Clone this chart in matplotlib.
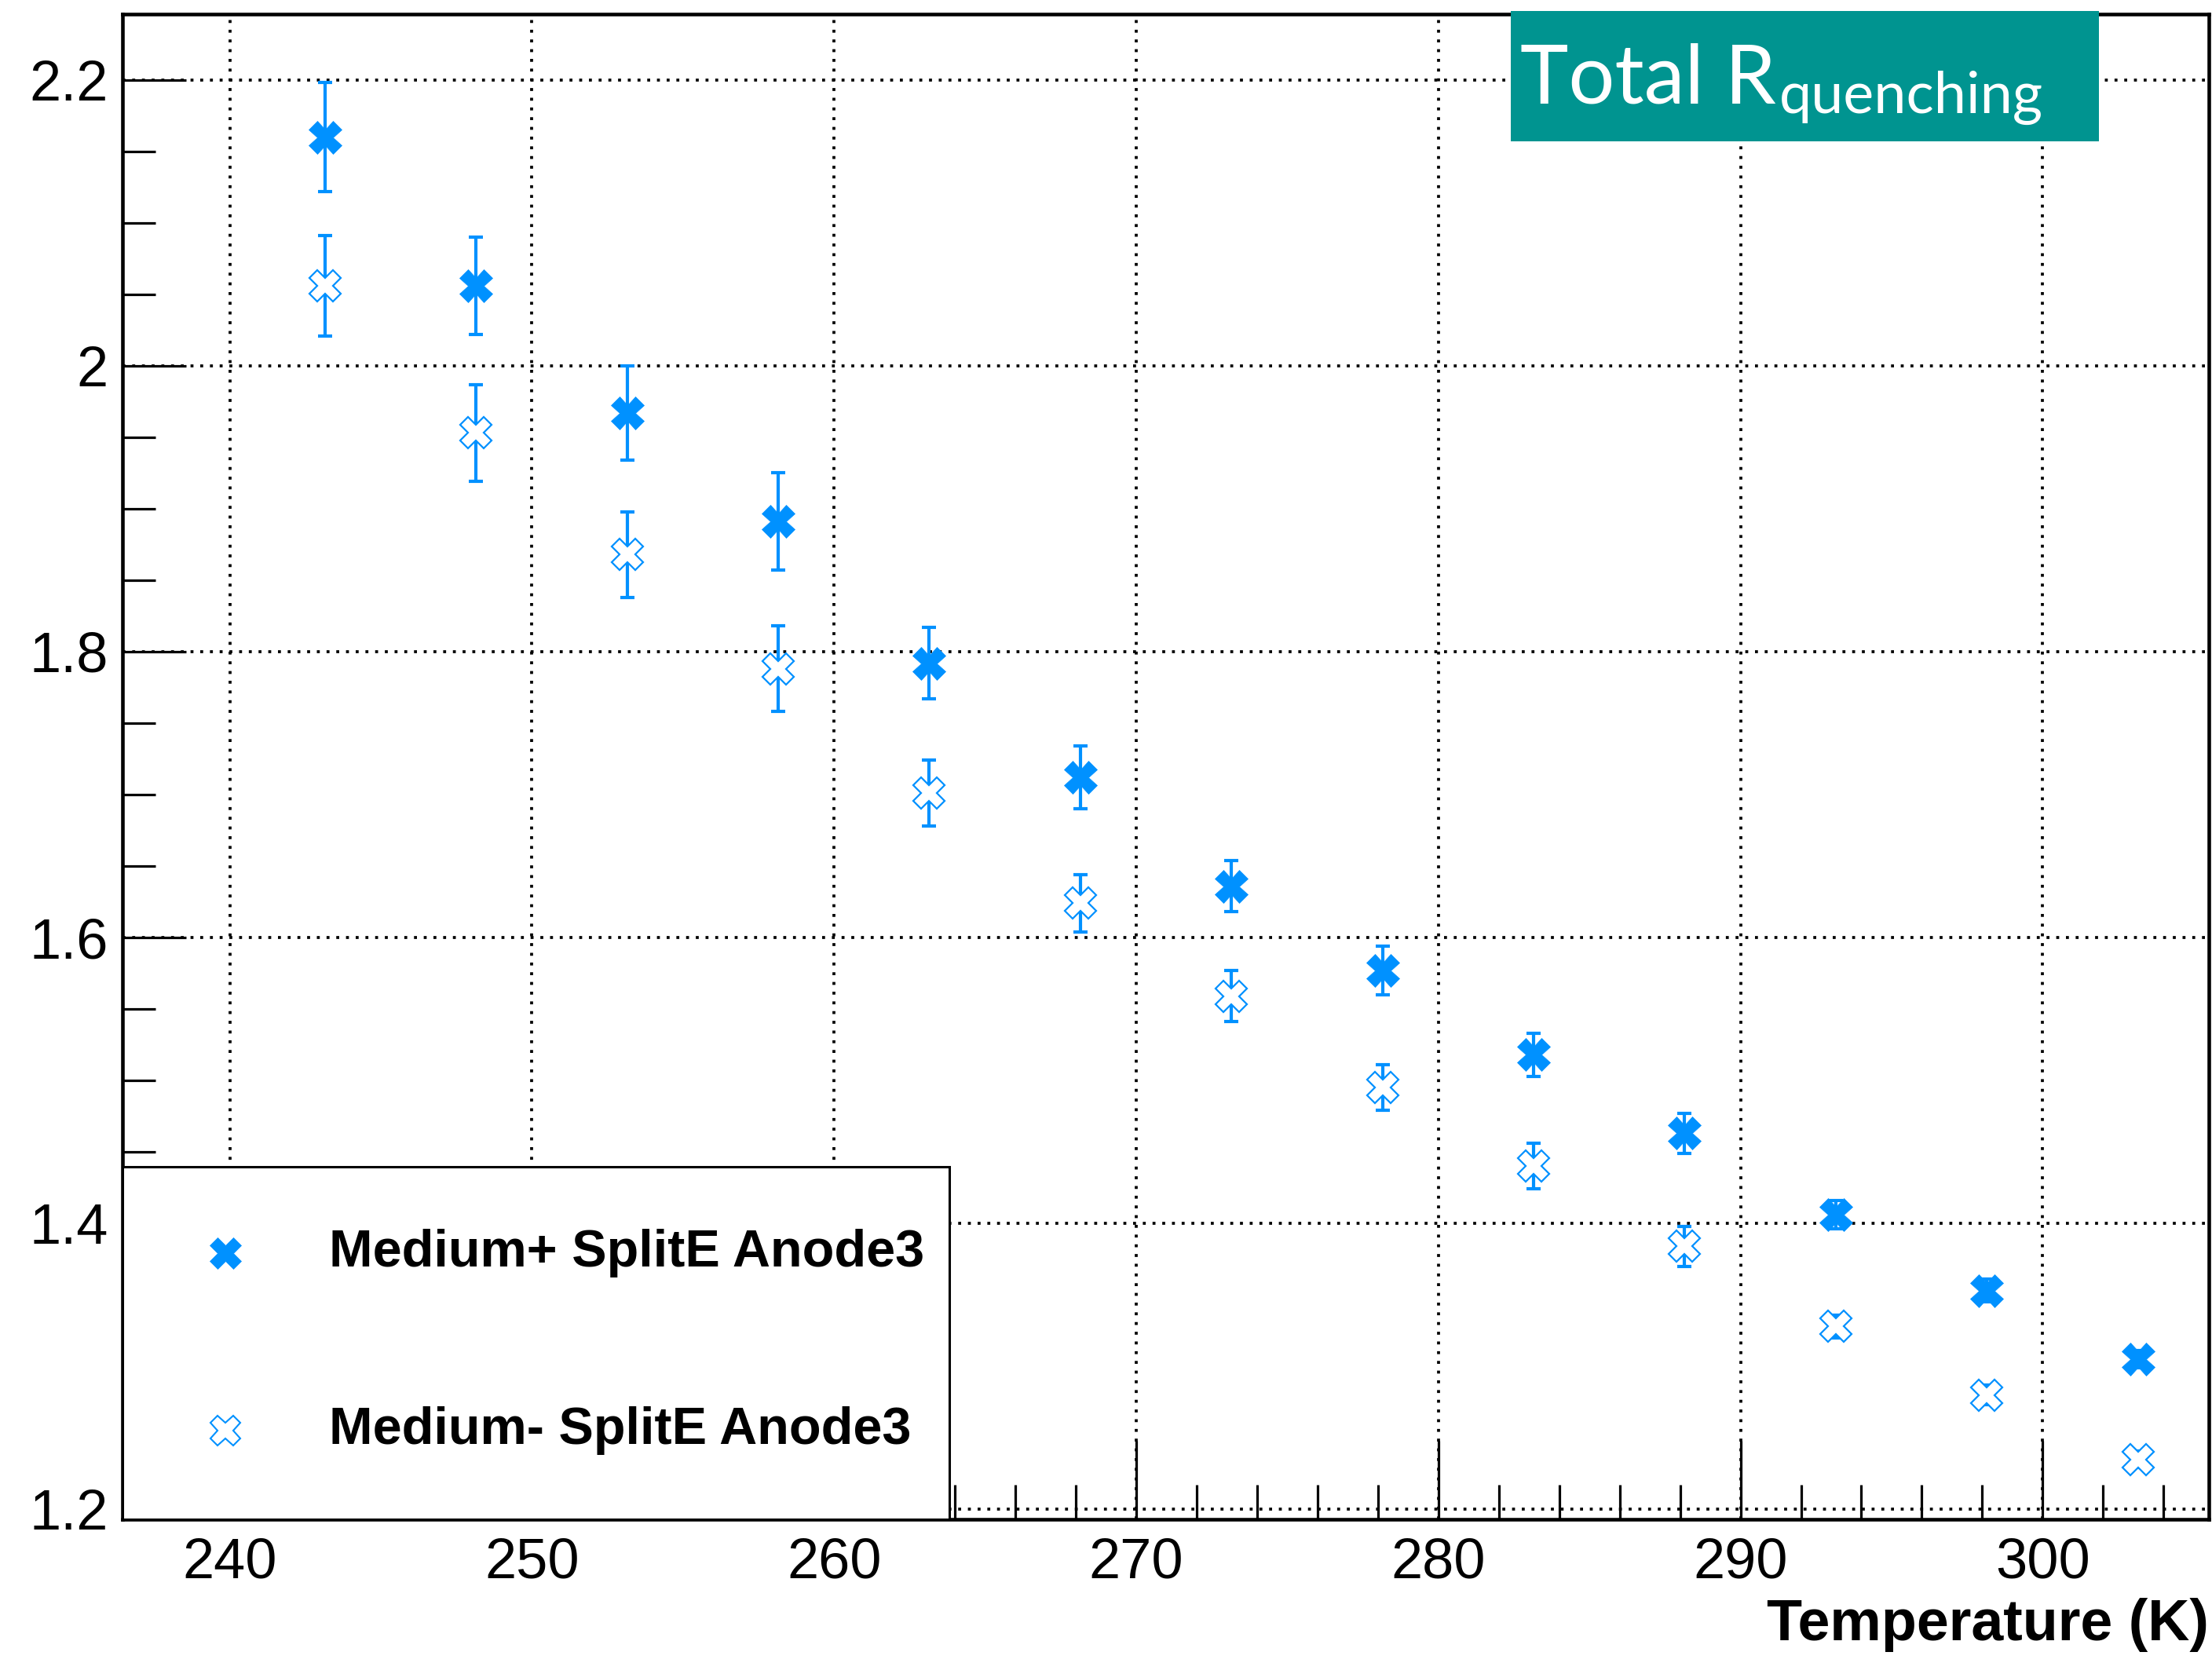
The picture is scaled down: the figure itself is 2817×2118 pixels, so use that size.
import matplotlib
matplotlib.use("Agg")
import matplotlib.pyplot as plt
from matplotlib.patches import Rectangle
from matplotlib.ticker import MultipleLocator

# Temperature scan (K): -30 C .. +30 C in 5 C steps
temperature = [243.15, 248.15, 253.15, 258.15, 263.15, 268.15, 273.15,
               278.15, 283.15, 288.15, 293.15, 298.15, 303.15]

# Total quenching resistance, Medium+ sample
r_plus = [2.160, 2.056, 1.967, 1.891, 1.792, 1.712, 1.636, 1.577, 1.518, 1.463, 1.406, 1.353, 1.305]
r_plus_err = [0.038, 0.034, 0.033, 0.034, 0.025, 0.022, 0.018, 0.017, 0.015, 0.014, 0.010, 0.008, 0.006]

# Total quenching resistance, Medium- sample
r_minus = [2.056, 1.953, 1.868, 1.788, 1.701, 1.624, 1.559, 1.495, 1.440, 1.384, 1.328, 1.280, 1.235]
r_minus_err = [0.035, 0.034, 0.030, 0.030, 0.023, 0.020, 0.018, 0.016, 0.016, 0.014, 0.008, 0.007, 0.006]

series_labels = ["Medium+ SplitE Anode3", "Medium- SplitE Anode3"]
x_ticks = [240, 250, 260, 270, 280, 290, 300]
y_ticks = [1.2, 1.4, 1.6, 1.8, 2.0, 2.2]
y_tick_labels = ["1.2", "1.4", "1.6", "1.8", "2", "2.2"]

BLUE = "#0091ff"
TEAL = "#009490"

plt.rcParams["font.family"] = ["Liberation Sans", "DejaVu Sans"]

W, H = 2817, 2118
fig = plt.figure(figsize=(W / 100, H / 100), dpi=100)
L, R, T, B = 156, 2813, 18, 1935
ax = fig.add_axes([L / W, 1 - B / H, (R - L) / W, (B - T) / H])

ax.set_xlim(236.45, 305.5)
ax.set_ylim(1.193, 2.246)

# ticks and grid
ax.set_xticks(x_ticks)
ax.set_yticks(y_ticks)
ax.set_yticklabels(y_tick_labels)
ax.xaxis.set_minor_locator(MultipleLocator(2))
ax.yaxis.set_minor_locator(MultipleLocator(0.05))
ax.grid(True, which="major", color="black", linestyle=(0, (1, 2.3)), linewidth=2.7)
ax.set_axisbelow(True)

ax.tick_params(axis="both", which="both", direction="in", top=False, right=False,
               width=2.3, colors="black", labelsize=52)
ax.tick_params(axis="x", which="major", length=72, pad=16)
ax.tick_params(axis="x", which="minor", length=32)
ax.tick_params(axis="y", which="major", length=58, pad=13)
ax.tick_params(axis="y", which="minor", length=30)
for s in ax.spines.values():
    s.set_linewidth(3.3)

# data
ax.errorbar(temperature, r_plus, yerr=r_plus_err, fmt="none", ecolor=BLUE,
            elinewidth=3.0, capsize=6.5, capthick=3.0, zorder=3)
ax.plot(temperature, r_plus, linestyle="none", marker="X", markersize=30,
        markerfacecolor=BLUE, markeredgecolor=BLUE, markeredgewidth=0.5, zorder=4)
ax.errorbar(temperature, r_minus, yerr=r_minus_err, fmt="none", ecolor=BLUE,
            elinewidth=3.0, capsize=6.5, capthick=3.0, zorder=3)
ax.plot(temperature, r_minus, linestyle="none", marker="X", markersize=29,
        markerfacecolor="white", markeredgecolor=BLUE, markeredgewidth=1.6, zorder=4)

# legend box
lw_, lh_ = (1209 - L) / (R - L), (1935 - 1486) / (B - T)
ax.add_patch(Rectangle((0, 0), lw_, lh_, transform=ax.transAxes, facecolor="white",
                       edgecolor="black", linewidth=2.2, zorder=10, clip_on=False))
row_y = [(B - 1596) / (B - T), (B - 1822) / (B - T)]
mk_x = (287 - L) / (R - L)
txt_x = (419 - L) / (R - L)
ax.plot([mk_x], [row_y[0]], transform=ax.transAxes, linestyle="none", marker="X",
        markersize=29, markerfacecolor=BLUE, markeredgecolor=BLUE, markeredgewidth=0.5,
        zorder=11, clip_on=False)
ax.plot([mk_x], [row_y[1]], transform=ax.transAxes, linestyle="none", marker="X",
        markersize=28, markerfacecolor="white", markeredgecolor=BLUE, markeredgewidth=1.5,
        zorder=11, clip_on=False)
for yy, lab in zip(row_y, series_labels):
    ax.text(txt_x, yy, lab, transform=ax.transAxes, ha="left", va="center",
            fontsize=48, fontweight="bold", zorder=12)

# axis title
ax.text(1.0, (B - 2089) / (B - T), "Temperature (K)", transform=ax.transAxes,
        ha="right", va="baseline", fontsize=53, fontweight="bold")

# title tag
fig.patches.append(Rectangle((1924 / W, 1 - 180 / H), (2673 - 1924) / W, (180 - 14) / H,
                             transform=fig.transFigure, facecolor=TEAL, edgecolor="none",
                             zorder=20))
main = fig.text(1936 / W, 1 - 131 / H, "Total R", color="white", family="Lato",
                fontsize=75, ha="left", va="baseline", zorder=21)
fig.canvas.draw()
bb = main.get_window_extent()
fig.text((bb.x1 + 4) / W, 1 - 144 / H, "quenching", color="white", family="Lato",
         fontsize=53, ha="left", va="baseline", zorder=21)

fig.savefig("out.png", dpi=100, facecolor="white")
